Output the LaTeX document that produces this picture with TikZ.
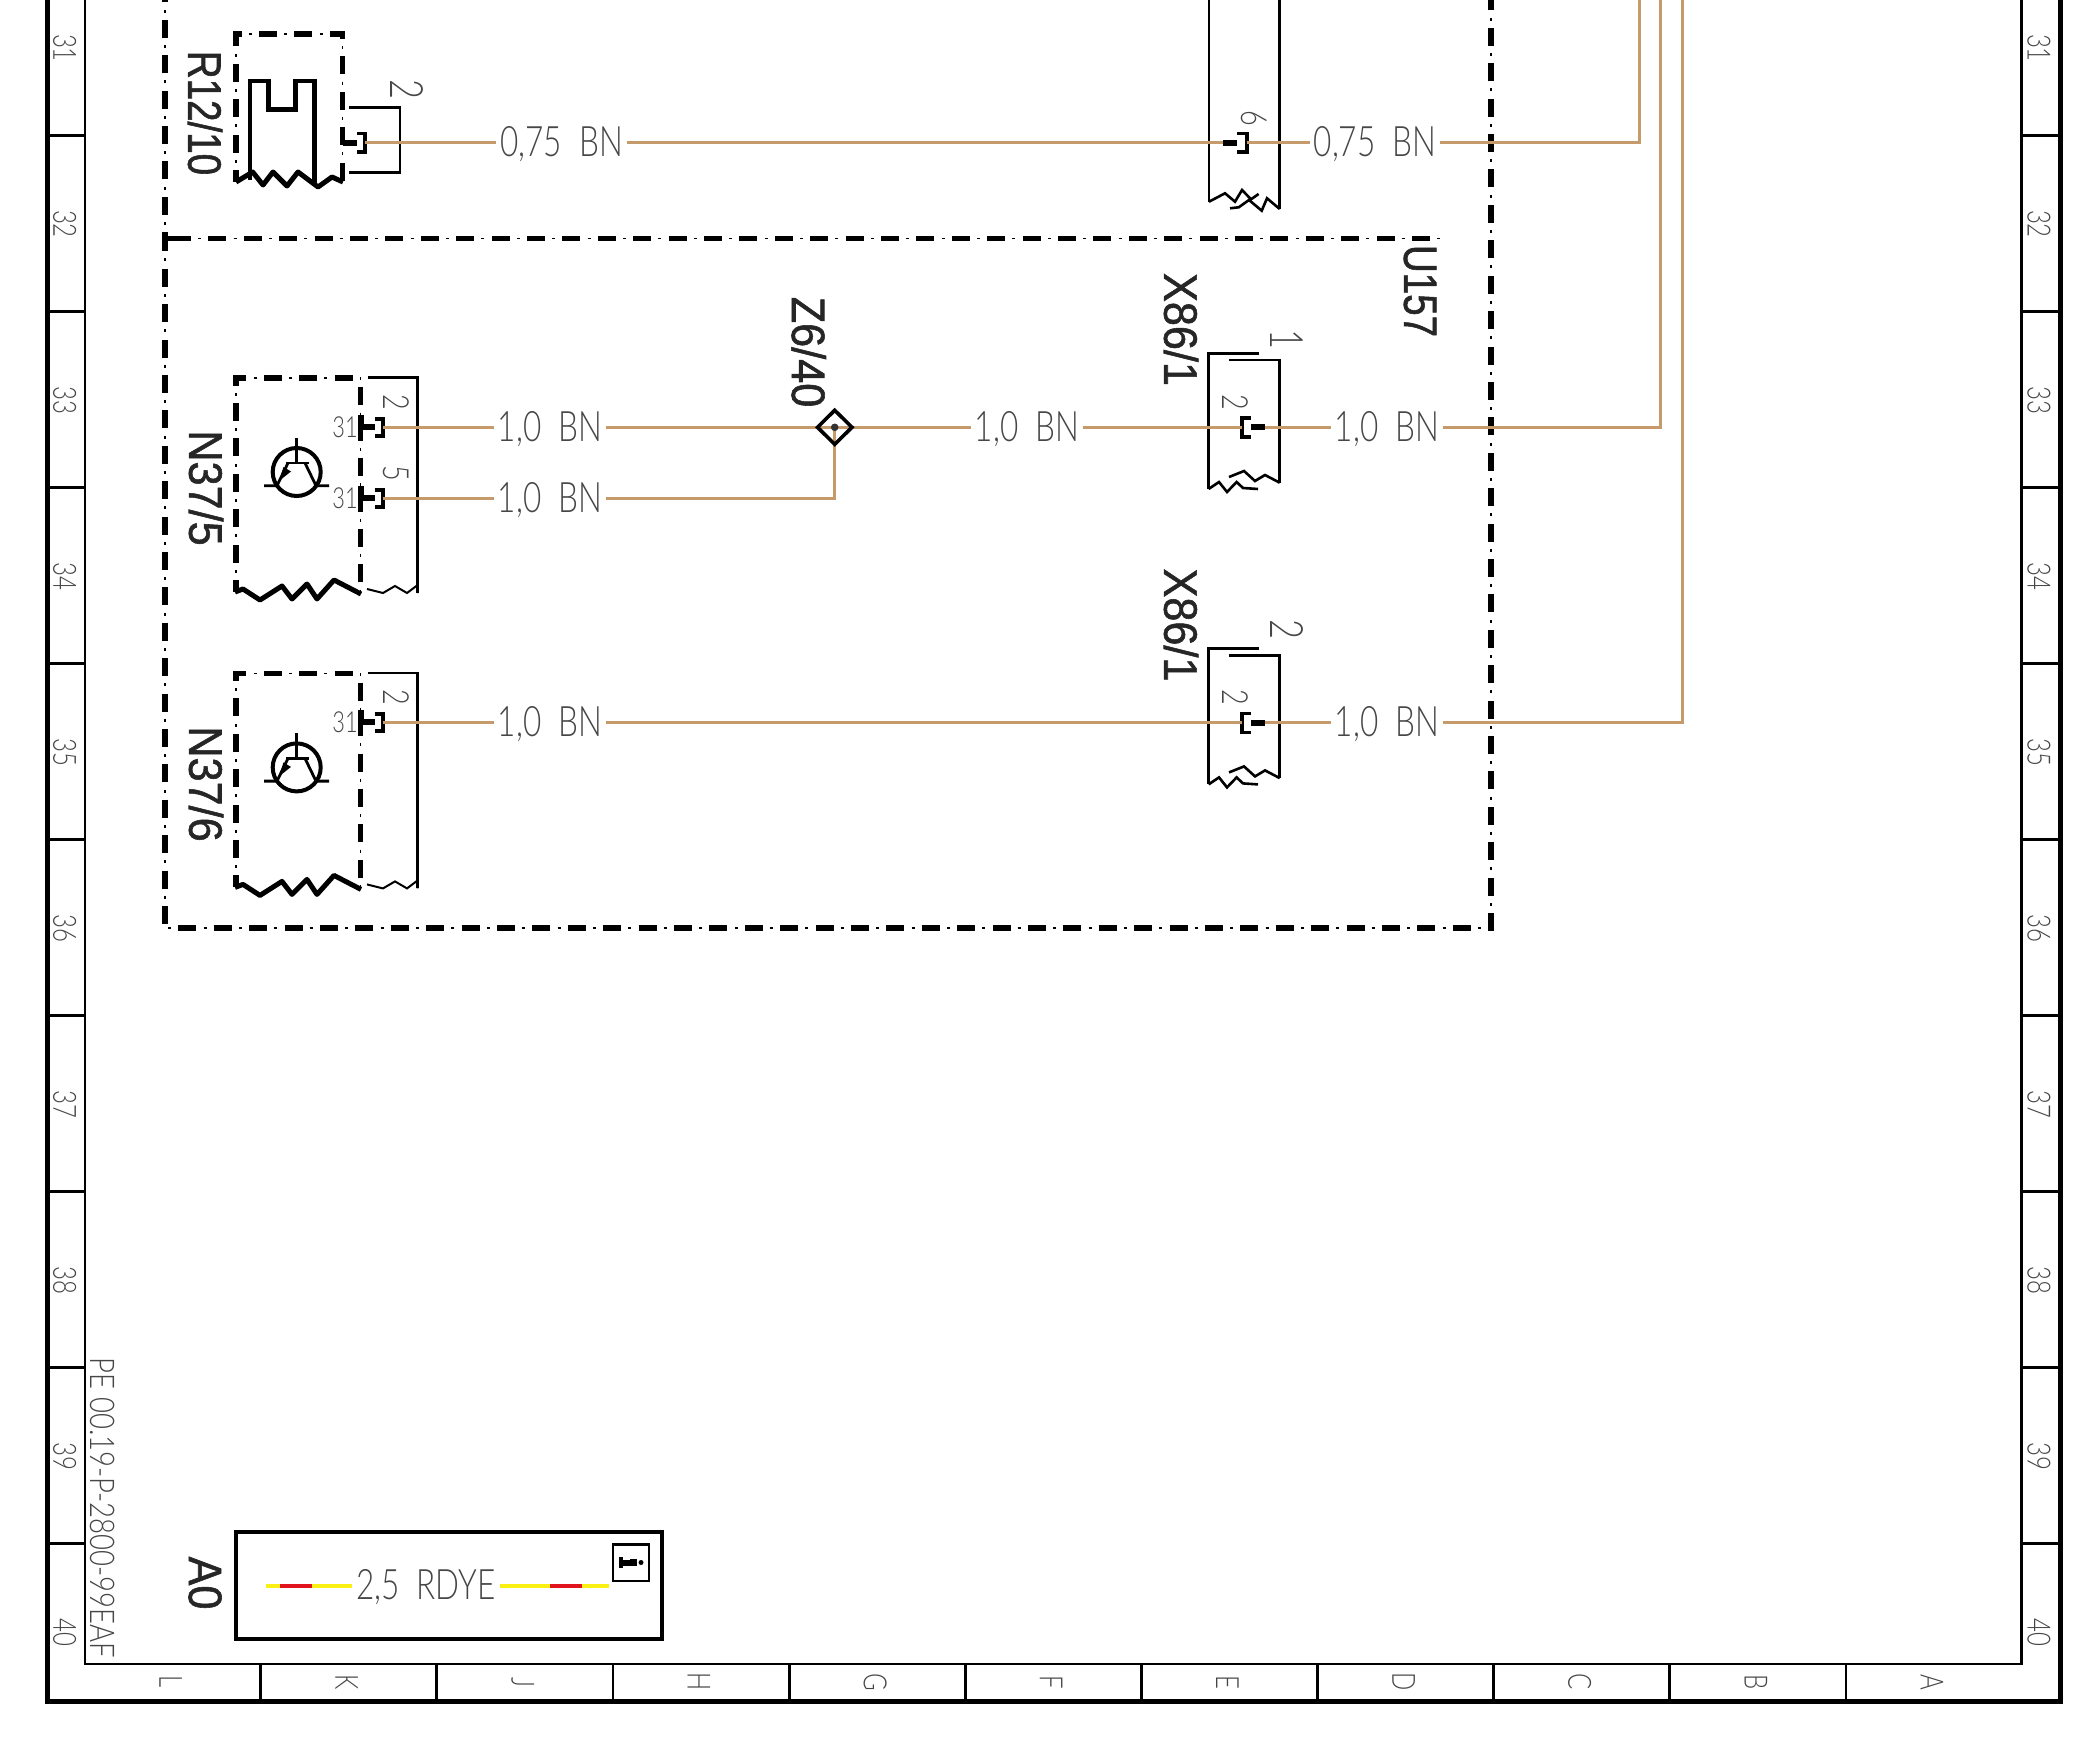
\documentclass[tikz,border=0pt]{standalone}
\usepackage{fontspec}
\newfontfamily\thinf[FakeStretch=0.75]{Lato Light}
\newfontfamily\thinw[FakeStretch=0.81]{Lato Light}
\newfontfamily\boldf[FakeStretch=0.82,FakeBold=1.2]{Liberation Sans}
\newfontfamily\boldw[FakeStretch=0.92,FakeBold=1.2]{Liberation Sans}
\definecolor{wirec}{RGB}{198,155,108}
\definecolor{textc}{RGB}{70,70,70}
\definecolor{redc}{RGB}{225,20,30}
\definecolor{yelc}{RGB}{250,240,20}
\tikzset{
  wire/.style={draw=wirec,line width=3.4pt},
  dd/.style={line width=5.2pt,dash pattern=on 18pt off 17.4pt,dash phase=#1pt,
     preaction={draw,line width=1.2pt,dash pattern=on 3pt off 32.4pt,dash phase=#1pt+10.2pt}},
  frameout/.style={line width=5pt},
  frameinn/.style={line width=2.8pt},
  lbl/.style={font=\thinf\fontsize{42}{42}\selectfont,text=textc,inner sep=4pt,yshift=-1.5pt},
  tag/.style={font=\boldf\fontsize{47}{47}\selectfont,text=black!85,inner sep=0pt,rotate=-90},
  tagw/.style={font=\boldw\fontsize{47}{47}\selectfont,text=black!85,inner sep=0pt,rotate=-90},
  ruler/.style={font=\thinf\fontsize{32}{32}\selectfont,text=textc,inner sep=0pt,rotate=-90},
  pinbig/.style={font=\thinf\fontsize{46}{46}\selectfont,text=textc,inner sep=0pt,rotate=-90},
  pinsmall/.style={font=\thinf\fontsize{36}{36}\selectfont,text=textc,inner sep=0pt,rotate=-90},
  pinup/.style={font=\thinf\fontsize{29}{29}\selectfont,text=textc,inner sep=0pt},
  thinbox/.style={line width=2.6pt,line join=miter},
  brack/.style={line width=3.6pt,line join=miter},
  pinbar/.style={line width=6pt},
}
\newcommand{\mytrans}[1]{%
\begin{scope}[shift={(0,#1)}]
  \draw[line width=4pt] (296.7,472) circle (24);
  \draw[line width=2.8pt] (296.7,438) -- (296.7,463) (286,463) -- (309,463);
  \draw[line width=2.8pt] (264,485.7) -- (277,485.7) -- (288,463);
  \draw[line width=2.8pt] (305,463) -- (316,485.7) -- (329,485.7);
  \fill (279,481) -- (283.5,467) -- (291,471.5) -- cycle;
  % module outline
  \draw[dd=6] (236,592) -- (236,378) -- (360.7,378) -- (360.7,592);
  \draw[line width=5pt,line join=round] (235,592) -- (243,589) -- (260,600) -- (282,586) -- (292,599) -- (307,584) -- (317,599) -- (334,580) -- (361,594);
  \draw[thinbox] (368,377.5) -- (417.7,377.5) -- (417.7,593);
  \draw[line width=2pt] (367,589) -- (383,593) -- (395,586) -- (407,593) -- (417.7,585) -- (417.7,593);
\end{scope}}
\newcommand{\mypin}[2]{% x,y of module pin: L-shaped stub and bracket
  \draw[pinbar] (#1,#2-12) -- (#1,#2) -- (#1+14,#2);
  \draw[brack] (#1+14,#2-8) -- (#1+22,#2-8) -- (#1+22,#2+9) -- (#1+14,#2+9);
}
\newcommand{\myplug}[1]{%
\begin{scope}[shift={(0,#1)}]
  \draw[thinbox] (1259,353.3) -- (1208.6,353.3) -- (1208.6,489);
  \draw[thinbox] (1229,360) -- (1279.7,360) -- (1279.7,482.7);
  \draw[line width=2.6pt] (1208.6,489) -- (1219,482) -- (1227,492) -- (1236.6,482) -- (1243,488) -- (1258,489);
  \draw[line width=2.6pt] (1229,477) -- (1244,471) -- (1255,481) -- (1265,475) -- (1279.7,482.7);
  \draw[brack] (1251,418) -- (1242,418) -- (1242,437) -- (1251,437);
  \draw[pinbar] (1251,427.3) -- (1265,427.3);
\end{scope}}
\begin{document}
\begin{tikzpicture}[x=1pt,y=-1pt]
\useasboundingbox (0,0) rectangle (2100,1760);
% ---- drawing frame
\draw[frameout] (47.3,-5) -- (47.3,1701) -- (2060,1701) -- (2060,-5);
\draw[frameinn] (85,-5) -- (85,1664) -- (2021.7,1664) -- (2021.7,-5);
\foreach \k in {0,...,8}{
  \draw[frameinn] (47.3,1543.3-176*\k) -- (85,1543.3-176*\k);
  \draw[frameinn] (2021.7,1543.3-176*\k) -- (2060,1543.3-176*\k);
}
\foreach \k in {0,...,9}{
  \draw[frameinn] (260.7+176.14*\k,1664) -- (260.7+176.14*\k,1701);
}
\foreach \n [count=\i from 0] in {40,39,38,37,36,35,34,33,32,31}{
  \node[ruler] (rl\n) at (64.6,1632-176*\i) {\n};
  \node[ruler] (rr\n) at (2039,1632-176*\i) {\n};
}
\foreach \c [count=\i from 0] in {A,B,C,D,E,F,G,H,J,K,L}{
  \node[ruler] (col\c) at (1932-176.14*\i,1682) {\c};
}
\node[font=\thinw\fontsize{34}{34}\selectfont,text=textc,inner sep=0pt,rotate=-90] (pe) at (102.7,1508) {PE 00.19-P-2800-99EAF};
% ---- U157 dash-dot frame
\draw[dd=12] (165,238.3) -- (165,-8);
\draw[dd=5] (165,238.3) -- (165,928) -- (1491,928) -- (1491,-8);
\draw[line width=5.2pt] (162.4,238.3) -- (173,238.3);
\draw[dd=0] (173,238.3) -- (1446,238.3);
\node[tag] (u157) at (1420,291) {U157};
% ---- R12/10
\draw[dd=6] (236,182) -- (236,34) -- (342.7,34) -- (342.7,182);
\draw[line width=5pt,line join=round] (236,182) -- (252.7,172) -- (263,185) -- (273,172) -- (287,186) -- (298,172) -- (318,187) -- (332,177) -- (343,182);
\draw[line width=4.5pt,line join=miter] (250,180) -- (250,81) -- (268.3,81) -- (268.3,109.3) -- (295.7,109.3) -- (295.7,81) -- (314.3,81) -- (314.3,185);
\draw[thinbox] (349,107.3) -- (400,107.3) -- (400,172.7) -- (349,172.7);
\draw[pinbar] (342.7,142.7) -- (356.7,142.7);
\draw[brack] (357.3,133.7) -- (364.7,133.7) -- (364.7,152) -- (357.3,152);
\node[tag] (r1210) at (205,113) {R12/10};
\node[pinbig] (r2) at (406.7,89.5) {2};
% ---- X upper connector
\draw[thinbox] (1209,-5) -- (1209,201.7);
\draw[thinbox] (1279.7,-5) -- (1279.7,209);
\draw[line width=2.6pt] (1209,201.7) -- (1225,193.3) -- (1235,201.7) -- (1242,190) -- (1251,199.3) -- (1258.6,194);
\draw[line width=2.6pt] (1230,208.3) -- (1238.7,207.3) -- (1249,200) -- (1261.7,210.7) -- (1267,198.3) -- (1279.7,209);
\draw[pinbar] (1223.4,142.7) -- (1236.8,142.7);
\draw[brack] (1236.8,133.5) -- (1247,133.5) -- (1247,152) -- (1236.8,152);
\node[pinsmall] (x6) at (1253.7,118) {6};
% ---- N37 modules
\mytrans{0}
\mytrans{295.4}
\mypin{360.7}{426.8}
\mypin{360.7}{498.2}
\mypin{360.7}{722.2}
\node[tagw] (n375) at (206,488) {N37/5};
\node[tagw] (n376) at (206,784) {N37/6};
\node[pinsmall] (n2a) at (396,402) {2};
\node[pinsmall] (n5) at (396,473.6) {5};
\node[pinsmall] (n2b) at (396,697.4) {2};
\node[pinup] (t31a) at (345,427) {31};
\node[pinup] (t31b) at (345,498.5) {31};
\node[pinup] (t31c) at (345,722.5) {31};
% ---- plugs
\myplug{0}
\myplug{295.4}
\node[tagw] (x861a) at (1181,329.5) {X86/1};
\node[tagw] (x861b) at (1181,625) {X86/1};
\node[pinbig] (x1) at (1287,340) {1};
\node[pinbig] (x2) at (1287,630) {2};
\node[pinsmall] (x2i) at (1235.5,402) {2};
\node[pinsmall] (x2j) at (1235.5,697.5) {2};
% ---- junction
\coordinate (z640) at (834.7,427.3);
\node[tagw] (z6) at (808.7,352) {Z6/40};
% ---- end coordinates of wires
\coordinate (ra) at (364.7,142.7);
\coordinate (xa) at (1223.4,142.7);
\coordinate (xb) at (1247,142.7);
\coordinate (n1) at (383,427.3);
\coordinate (n2) at (383,498.2);
\coordinate (n3) at (383,722.7);
\coordinate (pa) at (1242,427.3);
\coordinate (pb) at (1265,427.3);
\coordinate (pc) at (1242,722.7);
\coordinate (pd) at (1265,722.7);
\coordinate (ta) at (1639.4,-8);
\coordinate (tb) at (1660.5,-8);
\coordinate (tc) at (1682.5,-8);
% ---- wire labels
\node[lbl] (l1) at (561.7,142.7) {0,75 \ BN};
\node[lbl] (l2) at (1375,142.7) {0,75 \ BN};
\node[lbl] (l3) at (550,427.3) {1,0 \ BN};
\node[lbl] (l4) at (550,498.2) {1,0 \ BN};
\node[lbl] (l5) at (1027,427.3) {1,0 \ BN};
\node[lbl] (l6) at (1387,427.3) {1,0 \ BN};
\node[lbl] (l7) at (550,722.7) {1,0 \ BN};
\node[lbl] (l8) at (1387,722.7) {1,0 \ BN};
% ---- wires
\draw[wire] (ra) -- (l1.west |- ra);
\draw[wire] (l1.east |- ra) -- (xa);
\draw[wire] (xb) -- (l2.west |- xb);
\draw[wire,line join=miter] (l2.east |- xb) -- (ta |- xb) -- (ta);
\draw[wire] (n1) -- (l3.west |- n1);
\draw[wire] (l3.east |- n1) -- (z640);
\draw[wire] (n2) -- (l4.west |- n2);
\draw[wire,line join=miter] (l4.east |- n2) -- (z640 |- n2) -- (z640);
\draw[wire] (z640) -- (l5.west |- z640);
\draw[wire] (l5.east |- z640) -- (pa);
\draw[wire] (pb) -- (l6.west |- pb);
\draw[wire,line join=miter] (l6.east |- pb) -- (tb |- pb) -- (tb);
\draw[wire] (n3) -- (l7.west |- n3);
\draw[wire] (l7.east |- n3) -- (pc);
\draw[wire] (pd) -- (l8.west |- pd);
\draw[wire,line join=miter] (l8.east |- pd) -- (tc |- pd) -- (tc);
\draw[line width=3.6pt,line join=miter] (834.7,410.3) -- (852,427.3) -- (834.7,444.3) -- (817.5,427.3) -- cycle;
\fill[black!80] (z640) circle (3.8);
% ---- legend
\draw[line width=4.5pt] (236,1532) rectangle (662,1639);
\node[tagw] (a0) at (205,1583) {A0};
\node[lbl] (l9) at (426,1585.7) {2,5 \ RDYE};
\coordinate (aw) at (265.5,1585.7);
\coordinate (ae) at (609,1585.7);
\draw[draw=yelc,line width=4pt] (aw) -- (l9.west |- aw);
\draw[draw=redc,line width=4pt] (280,1585.7) -- (312,1585.7);
\draw[draw=yelc,line width=4pt] (l9.east |- ae) -- (ae);
\draw[draw=redc,line width=4pt] (550,1585.7) -- (582,1585.7);
\draw[line width=2.6pt] (613,1544.5) rectangle (649,1581);
\fill (619,1557) rectangle (622.5,1568);
\fill (619,1560) rectangle (637,1565.5);
\fill (630,1559) rectangle (637,1562);
\fill (641,1562.5) circle (2.5);
\end{tikzpicture}
\end{document}
